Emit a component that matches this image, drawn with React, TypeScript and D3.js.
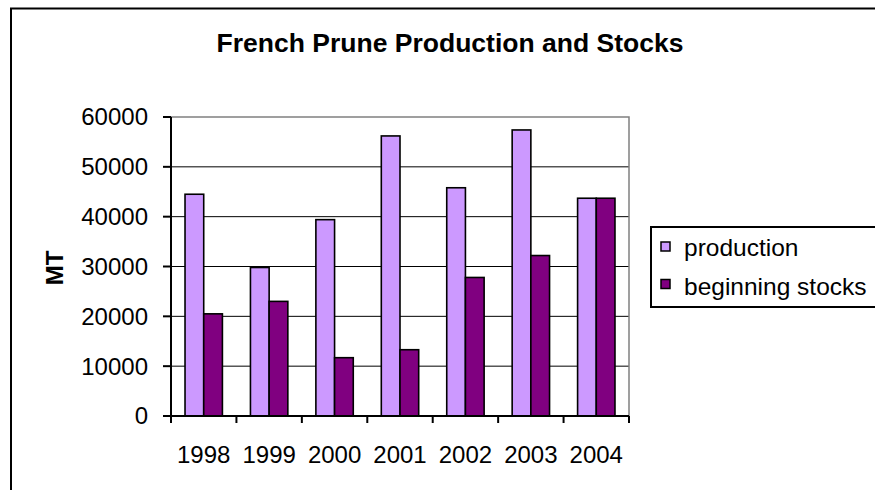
import * as d3 from 'd3';
import React from 'react';

const years = ['1998', '1999', '2000', '2001', '2002', '2003', '2004'];
const production = [44500, 29800, 39400, 56200, 45800, 57400, 43700];
const beginningStocks = [20500, 23000, 11700, 13300, 27800, 32200, 43700];
const seriesNames = ['production', 'beginning stocks'];
const seriesColors = ['#CC99FF', '#800080'];
const yTicks = [0, 10000, 20000, 30000, 40000, 50000, 60000];

const W = 875;
const H = 490;
const font = 'Arial, "Liberation Sans", sans-serif';

const App: React.FC = () => {
  const left = 171;
  const right = 629;
  const top = 117;
  const bottom = 416;

  const x = d3
    .scaleBand<string>()
    .domain(years)
    .range([left, right])
    .paddingInner(1.5 / 3.5)
    .paddingOuter(0.75 / 3.5);
  const step = x.step();
  const xInner = d3.scaleBand<string>().domain(seriesNames).range([0, x.bandwidth()]);
  const y = d3.scaleLinear().domain([0, 60000]).range([bottom, top]);

  const series = [production, beginningStocks];
  const boundaries = d3.range(years.length + 1).map(i => left + i * step);

  return (
    <svg
      width={W}
      height={H}
      style={{ position: 'fixed', left: 0, top: 0, background: '#fff' }}
      fontFamily={font}
    >
      <rect x={0} y={0} width={W} height={H} fill="#fff" />
      {/* outer chart border, cut off at the right and bottom */}
      <path d={`M11,${H + 10} V8.5 H${W + 10}`} fill="none" stroke="#000" strokeWidth={2} />

      <text x={450} y={52} textAnchor="middle" fontSize={26.5} fontWeight="bold">
        French Prune Production and Stocks
      </text>

      {/* gridlines */}
      {yTicks
        .filter(t => t > 0 && t < 60000)
        .map(t => (
          <line key={t} x1={left} x2={right} y1={y(t)} y2={y(t)} stroke="#000" strokeWidth={1} />
        ))}
      {/* plot area top/right border */}
      <polyline
        points={`${left},${y(60000)} ${right},${y(60000)} ${right},${bottom}`}
        fill="none"
        stroke="#808080"
        strokeWidth={1.5}
      />

      {/* bars */}
      {series.map((vals, si) =>
        vals.map((v, i) => (
          <rect
            key={`${si}-${i}`}
            x={(x(years[i]) ?? 0) + (xInner(seriesNames[si]) ?? 0)}
            y={y(v)}
            width={xInner.bandwidth()}
            height={bottom - y(v)}
            fill={seriesColors[si]}
            stroke="#000"
            strokeWidth={1.6}
          />
        )),
      )}

      {/* y axis */}
      <line x1={left} x2={left} y1={top} y2={bottom} stroke="#000" strokeWidth={2} />
      {yTicks.map(t => (
        <g key={t}>
          <line x1={left - 8} x2={left} y1={y(t)} y2={y(t)} stroke="#000" strokeWidth={2} />
          <text x={148} y={y(t)} dy="0.35em" textAnchor="end" fontSize={24}>
            {t}
          </text>
        </g>
      ))}

      {/* x axis */}
      <line x1={left} x2={right} y1={bottom} y2={bottom} stroke="#000" strokeWidth={2} />
      {boundaries.map((bx, i) => (
        <line key={i} x1={bx} x2={bx} y1={bottom} y2={bottom + 7} stroke="#000" strokeWidth={2} />
      ))}
      {years.map(yr => (
        <text key={yr} x={(x(yr) ?? 0) + x.bandwidth() / 2} y={463} textAnchor="middle" fontSize={24}>
          {yr}
        </text>
      ))}

      <text
        transform="translate(63,268) rotate(-90)"
        textAnchor="middle"
        fontSize={24}
        fontWeight="bold"
      >
        MT
      </text>

      {/* legend, cut off at the right */}
      <rect x={651} y={227} width={260} height={80} fill="#fff" stroke="none" />
      <path d={`M${W + 10},227 H651 V307 H${W + 10}`} fill="none" stroke="#000" strokeWidth={2} />
      {seriesNames.map((name, i) => (
        <g key={name}>
          <rect
            x={661}
            y={242 + i * 37.5}
            width={9}
            height={9}
            fill={seriesColors[i]}
            stroke="#000"
            strokeWidth={1.5}
          />
          <text x={684} y={256 + i * 39} fontSize={24.5}>
            {name}
          </text>
        </g>
      ))}
    </svg>
  );
};

export default App;
